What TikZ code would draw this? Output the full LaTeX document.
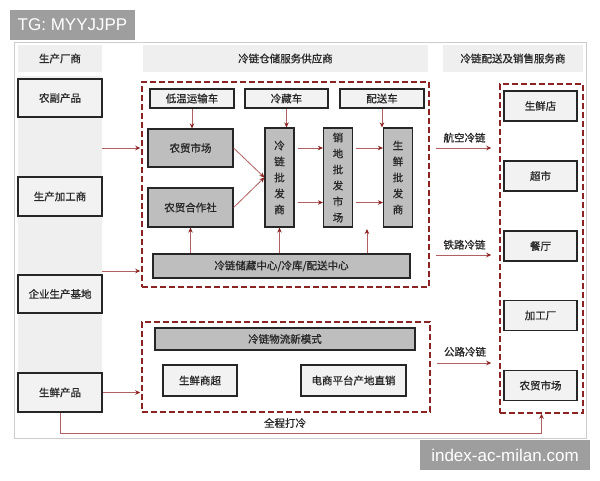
\documentclass[tikz,border=0pt]{standalone}
\usepackage{fontspec}
\setmainfont{Noto Sans CJK SC}[FakeBold=0.8]
\newfontfamily\wmfont{Liberation Sans}
\usepackage{tikz}
\usetikzlibrary{
    arrows.meta,
    positioning,
    calc
}
\definecolor{chainred}{HTML}{8B2323}
\definecolor{flowred}{HTML}{B06060}
\definecolor{lightbox}{HTML}{F2F2F2}
\definecolor{darkbox}{HTML}{BEBEBE}
\definecolor{colbg}{HTML}{EFEFEF}

\begin{document}
\begin{tikzpicture}[x=1pt, y=-1pt,
    every node/.style={font=\fontsize{10.5}{13}\selectfont, text=black!85, inner sep=0pt},
    head/.style={fill=colbg, minimum height=27pt},
    litebox/.style={draw=black!85, line width=1.2pt, fill=lightbox},
    greybox/.style={draw=black!85, line width=1.2pt, fill=darkbox},
    vbox/.style={greybox, minimum width=29pt, minimum height=99pt, align=center, font=\fontsize{10.5}{16}\selectfont},
    zone/.style={draw=chainred, line width=1.5pt, dash pattern=on 6pt off 3pt},
    flow/.style={-{Stealth[length=5pt, width=4.5pt, chainred]}, line width=0.8pt, flowred},
    wmark/.style={fill=black!38, text=white, minimum height=30pt},
]
    \useasboundingbox[fill=white] (0,0) rectangle (600,480);

    % Frame and column headers
    \node[draw=black!20, line width=0.8pt, fill=white, minimum width=572pt, minimum height=396pt] (frame) at (300,240) {};
    \node[head, minimum width=84pt] (h1) at (60,58.5) {生产厂商};
    \node[head, minimum width=285pt] (h2) at (285.5,58.5) {冷链仓储服务供应商};
    \node[head, minimum width=140pt] (h3) at (513,58.5) {冷链配送及销售服务商};

    % Producers
    \node[fill=colbg, minimum width=84pt, minimum height=336pt] (col) at (60,244) {};
    \node[litebox, minimum width=84pt, minimum height=38pt] (fp) at (60,98) {农副产品};
    \node[litebox, minimum width=84pt, minimum height=39pt] (jg) at (60,196.5) {生产加工商};
    \node[litebox, minimum width=84pt, minimum height=38pt] (jd) at (60,294) {企业生产基地};
    \node[litebox, minimum width=84pt, minimum height=39pt] (sx) at (60,392.5) {生鲜产品};

    % Storage providers
    \node[zone, minimum width=287pt, minimum height=205pt] (box1) at (285.5,184.5) {};
    \node[litebox, minimum width=84pt, minimum height=19pt] (c1) at (192,98.5) {低温运输车};
    \node[litebox, minimum width=83pt, minimum height=19pt] (c2) at (286.5,98.5) {冷藏车};
    \node[litebox, minimum width=84pt, minimum height=19pt] (c3) at (382,98.5) {配送车};
    \node[greybox, minimum width=85pt, minimum height=38pt] (m1) at (190.5,148) {农贸市场};
    \node[greybox, minimum width=85pt, minimum height=39pt] (m2) at (190.5,207.5) {农贸合作社};
    \node[vbox] (v1) at (279.5,177.5) {冷\\链\\批\\发\\商};
    \node[vbox] (v2) at (338,177.5) {销\\地\\批\\发\\市\\场};
    \node[vbox] (v3) at (398,177.5) {生\\鲜\\批\\发\\商};
    \node[greybox, minimum width=257pt, minimum height=24pt] (st) at (281.5,266) {冷链储藏中心/冷库/配送中心};
    \coordinate (up3) at (367,229);

    \draw[flow] (c1.south) -- (c1.south |- m1.north);
    \draw[flow] (c2.south) -- (c2.south |- v1.north);
    \draw[flow] (c3.south) -- (c3.south |- v3.north);
    \draw[flow] (m1.east) -- (v1.west);
    \draw[flow] (m2.east) -- (v1.west);
    \draw[flow, shorten <=3pt] (v1.east |- m1.east) -- (v2.west |- m1.east);
    \draw[flow, shorten <=3pt] ($(v1.east |- m2.east)+(0,-5)$) -- ($(v2.west |- m2.east)+(0,-5)$);
    \draw[flow, shorten <=3pt] (v2.east |- m1.east) -- (v3.west |- m1.east);
    \draw[flow, shorten <=3pt] ($(v2.east |- m2.east)+(0,-5)$) -- ($(v3.west |- m2.east)+(0,-5)$);
    \draw[flow] (m2.south |- st.north) -- (m2.south);
    \draw[flow] (v1.south |- st.north) -- (v1.south);
    \draw[flow] (up3 |- st.north) -- (up3);

    % New modes
    \node[zone, minimum width=288pt, minimum height=90pt] (box2) at (286,367) {};
    \node[greybox, minimum width=260pt, minimum height=22pt] (nm) at (285,339) {冷链物流新模式};
    \node[litebox, minimum width=74pt, minimum height=31pt] (b1) at (200,380.5) {生鲜商超};
    \node[litebox, minimum width=105pt, minimum height=31pt] (b2) at (353.5,380.5) {电商平台产地直销};

    % Retail side
    \node[zone, minimum width=83pt, minimum height=329pt] (box3) at (541.5,248.5) {};
    \node[litebox, minimum width=73pt, minimum height=30pt] (r1) at (540.5,106) {生鲜店};
    \node[litebox, minimum width=73pt, minimum height=30pt] (r2) at (540.5,176) {超市};
    \node[litebox, minimum width=73pt, minimum height=30pt] (r3) at (540.5,246) {餐厅};
    \node[litebox, minimum width=73pt, minimum height=30pt] (r4) at (540.5,315.5) {加工厂};
    \node[litebox, minimum width=73pt, minimum height=30pt] (r5) at (540.5,385.5) {农贸市场};

    % Inflow from producers
    \coordinate (inlow) at (0,271);
    \draw[flow, shorten >=1pt] (col.east |- m1.east) -- (box1.west |- m1.east);
    \draw[flow, shorten >=1pt] (col.east |- inlow) -- (box1.west |- inlow);
    \draw[flow, shorten >=1pt] (sx.east) -- (box2.west |- sx.east);

    % Transport modes
    \coordinate (rail) at (0,255);
    \coordinate (road) at (0,363);
    \draw[flow, shorten <=6pt, shorten >=8pt] (box1.east |- m1.east) -- (box3.west |- m1.east)
        node[midway, above=5pt] {航空冷链};
    \draw[flow, shorten <=6pt, shorten >=8pt] (box1.east |- rail) -- (box3.west |- rail)
        node[midway, above=5pt] {铁路冷链};
    \draw[flow, shorten <=6pt, shorten >=8pt] (box2.east |- road) -- (box3.west |- road)
        node[midway, above=6pt] {公路冷链};

    % Whole-chain cooling
    \coordinate (cold) at (0,433);
    \draw[flow] (sx.south) -- (sx.south |- cold) -| (box3.south);
    \node (qc) at (285,423) {全程打冷};

    % Marks
    \node[wmark, minimum width=125pt, font=\wmfont\fontsize{17}{17}\selectfont] (tg) at (72.5,25) {TG: MYYJJPP};
    \node[wmark, minimum width=170pt, font=\wmfont\fontsize{17}{17}\selectfont] (site) at (505,455) {index-ac-milan.com};
\end{tikzpicture}
\end{document}
